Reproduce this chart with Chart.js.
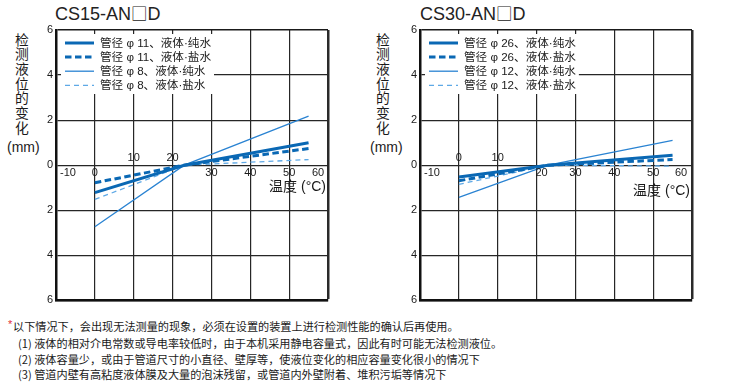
<!DOCTYPE html>
<html><head><meta charset="utf-8">
<script src="https://cdn.jsdelivr.net/npm/chart.js@4.4.1/dist/chart.umd.min.js"></script>
<style>
html,body{margin:0;padding:0;background:#fff;}
body{width:735px;height:382px;position:relative;overflow:hidden;font-family:"Liberation Sans",Arial,sans-serif;color:#222;}
canvas{position:absolute;top:0;}
.title{position:absolute;top:3px;font-family:"Liberation Sans",sans-serif;font-size:18px;line-height:20px;color:#222;white-space:nowrap;}
.title .sq{font-family:"Noto Sans CJK SC";font-size:16.5px;}
.ytitle{position:absolute;top:31.6px;width:20px;font-family:"Noto Sans CJK SC";font-size:13.8px;line-height:14.7px;text-align:center;color:#1a1a1a;}
.mm{position:absolute;top:139px;font-size:14px;line-height:16px;white-space:nowrap;color:#222;}
.note{position:absolute;font-family:"Noto Sans CJK SC";font-size:11.15px;line-height:16px;white-space:nowrap;color:#1a1a1a;}
.star{position:absolute;left:8px;top:318px;font-size:11px;line-height:12px;color:#e2303a;}
</style></head>
<body>
<div class="title" style="left:55px;">CS15-AN<span class="sq">□</span>D</div>
<div class="title" style="left:420px;">CS30-AN<span class="sq">□</span>D</div>
<div class="ytitle" style="left:12px;">检<br>测<br>液<br>位<br>的<br>变<br>化</div>
<div class="mm" style="left:7px;">(mm)</div>
<div class="ytitle" style="left:373px;">检<br>测<br>液<br>位<br>的<br>变<br>化</div>
<div class="mm" style="left:370px;">(mm)</div>
<canvas id="c1" width="340" height="310" style="left:0px;"></canvas>
<canvas id="c2" width="340" height="310" style="left:364px;"></canvas>
<div class="star">*</div>
<div class="note" style="left:13px;top:318px;">以下情况下，会出现无法测量的现象，必须在设置的装置上进行检测性能的确认后再使用。</div>
<div class="note" style="left:18px;top:335px;">(1) 液体的相对介电常数或导电率较低时，由于本机采用静电容量式，因此有时可能无法检测液位。</div>
<div class="note" style="left:18px;top:351px;">(2) 液体容量少，或由于管道尺寸的小直径、壁厚等，使液位变化的相应容量变化很小的情况下</div>
<div class="note" style="left:18px;top:366px;">(3) 管道内壁有高粘度液体膜及大量的泡沫残留，或管道内外壁附着、堆积污垢等情况下</div>
<script>
// ---- data ----
const xTicks = [-10, 0, 10, 20, 30, 40, 50, 60];
const yTicks = [-6, -4, -2, 0, 2, 4, 6];
const tempsCS15 = [0, 23, 55];
const cs15Phi11Pure = [-1.22, 0, 1.00];
const cs15Phi11Salt = [-0.78, 0, 0.74];
const cs15Phi8Pure  = [-2.73, 0, 2.18];
const cs15Phi8Salt  = [-1.52, 0, 0.25];
const tempsCS30 = [0, 23, 55];
const cs30Phi26Pure = [-0.52, 0, 0.44];
const cs30Phi26Salt = [-0.69, 0, 0.25];
const cs30Phi12Pure = [-1.43, 0, 1.10];
const cs30Phi12Salt = [-0.85, 0, -0.04];
const legendCS15 = ['管径 φ 11、液体·纯水', '管径 φ 11、液体·盐水', '管径 φ 8、液体·纯水', '管径 φ 8、液体·盐水'];
const legendCS30 = ['管径 φ 26、液体·纯水', '管径 φ 26、液体·盐水', '管径 φ 12、液体·纯水', '管径 φ 12、液体·盐水'];
const xAxisTitle = '温度 (°C)';

// ---- styles ----
const lineStyles = [
  {color: '#0a68b4', width: 3, dash: []},
  {color: '#0a68b4', width: 3, dash: [6.5, 3.5]},
  {color: '#2a83d2', width: 1.3, dash: []},
  {color: '#5ea9e6', width: 1.3, dash: [5, 4]}
];
const gridColor = '#262626';

const overlayPlugin = {
  id: 'overlay',
  beforeDatasetsDraw(chart, args, opts) {
    const ca = chart.chartArea, ctx = chart.ctx;
    ctx.save();
    ctx.font = '11.6px "Liberation Sans", "Noto Sans CJK SC"';
    let maxW = 0;
    opts.legend.forEach(t => { maxW = Math.max(maxW, ctx.measureText(t).width); });
    const bx = ca.left + 5, by = ca.top + 4;
    const bw = 44 + maxW + 3 - 5, bh = 60;
    ctx.fillStyle = '#fff';
    ctx.fillRect(bx, by, bw, bh);
    chart.data.datasets.forEach((ds, i) => {
      const y = ca.top + 13 + 14.1 * i;
      ctx.beginPath();
      ctx.strokeStyle = ds.borderColor;
      ctx.lineWidth = ds.borderWidth;
      ctx.setLineDash(ds.borderDash || []);
      ctx.moveTo(ca.left + 9, y);
      ctx.lineTo(ca.left + 38, y);
      ctx.stroke();
      ctx.setLineDash([]);
      ctx.fillStyle = '#1a1a1a';
      ctx.textBaseline = 'middle';
      ctx.textAlign = 'left';
      ctx.fillText(opts.legend[i], ca.left + 44, y + 0.5);
    });
    ctx.restore();
  },
  afterDraw(chart, args, opts) {
    const ctx = chart.ctx, xs = chart.scales.x, ys = chart.scales.y;
    const y0 = ys.getPixelForValue(0);
    ctx.save();
    ctx.fillStyle = '#1a1a1a';
    ctx.font = '11px "Liberation Sans", Arial, sans-serif';
    ctx.textAlign = 'center';
    ctx.textBaseline = 'middle';
    xTicks.forEach(v => {
      const above = opts.above.includes(v);
      const px = xs.getPixelForValue(v) + (opts.nudge[v] || 0);
      const py = y0 + (above ? -7.7 : 7.7);
      ctx.fillText(String(v), px, py);
    });
    ctx.font = '14px "Liberation Sans", "Noto Sans CJK SC"';
    ctx.textAlign = 'right';
    ctx.fillText(xAxisTitle, chart.chartArea.right - 2, y0 + opts.titleDy);
    ctx.restore();
  }
};

function makeChart(id, temps, series, legend, above, nudge, titleDy) {
  const datasets = series.map((vals, i) => ({
    data: temps.map((t, k) => ({x: t, y: vals[k]})),
    borderColor: lineStyles[i].color,
    borderWidth: lineStyles[i].width,
    borderDash: lineStyles[i].dash,
    pointRadius: 0,
    tension: 0,
    fill: false
  }));
  return new Chart(document.getElementById(id), {
    type: 'line',
    data: {datasets},
    plugins: [overlayPlugin],
    options: {
      responsive: false,
      animation: false,
      devicePixelRatio: 1,
      layout: {padding: {top: 30, right: 12, bottom: 8, left: 0}},
      plugins: {
        legend: {display: false},
        tooltip: {enabled: false},
        overlay: {legend, above, nudge, titleDy}
      },
      scales: {
        x: {
          type: 'linear', min: xTicks[0], max: xTicks[xTicks.length - 1],
          afterBuildTicks: s => { s.ticks = xTicks.map(v => ({value: v})); },
          ticks: {display: false},
          grid: {
            drawTicks: false,
            color: c => (c.tick && c.tick.value === 60) ? '#2a2a2a' : gridColor,
            lineWidth: c => (c.tick && c.tick.value === 60) ? 2.5 : 1.2
          },
          border: {display: true, color: '#111', width: 2.5},
          afterFit: s => { s.height = 0; }
        },
        y: {
          type: 'linear', min: yTicks[0], max: yTicks[yTicks.length - 1],
          afterBuildTicks: s => { s.ticks = yTicks.map(v => ({value: v})); },
          ticks: {
            callback: v => String(Math.abs(v)),
            color: '#1a1a1a', padding: 3,
            font: {size: 11, family: '"Liberation Sans", Arial, sans-serif'}
          },
          grid: {
            drawTicks: false,
            color: c => (c.tick && c.tick.value === 6) ? '#1a1a1a' : gridColor,
            lineWidth: c => (c.tick && c.tick.value === 6) ? 1.4 : 1.2
          },
          border: {display: true, color: '#111', width: 2.5},
          afterFit: s => { s.width = 56; }
        }
      }
    }
  });
}

makeChart('c1', tempsCS15, [cs15Phi11Pure, cs15Phi11Salt, cs15Phi8Pure, cs15Phi8Salt], legendCS15,
  [10, 20], {'-10': 12, '60': -10}, 22);
makeChart('c2', tempsCS30, [cs30Phi26Pure, cs30Phi26Salt, cs30Phi12Pure, cs30Phi12Salt], legendCS30,
  [0, 10], {'-10': 12, '20': 5, '60': -11}, 26);
</script>
</body></html>
